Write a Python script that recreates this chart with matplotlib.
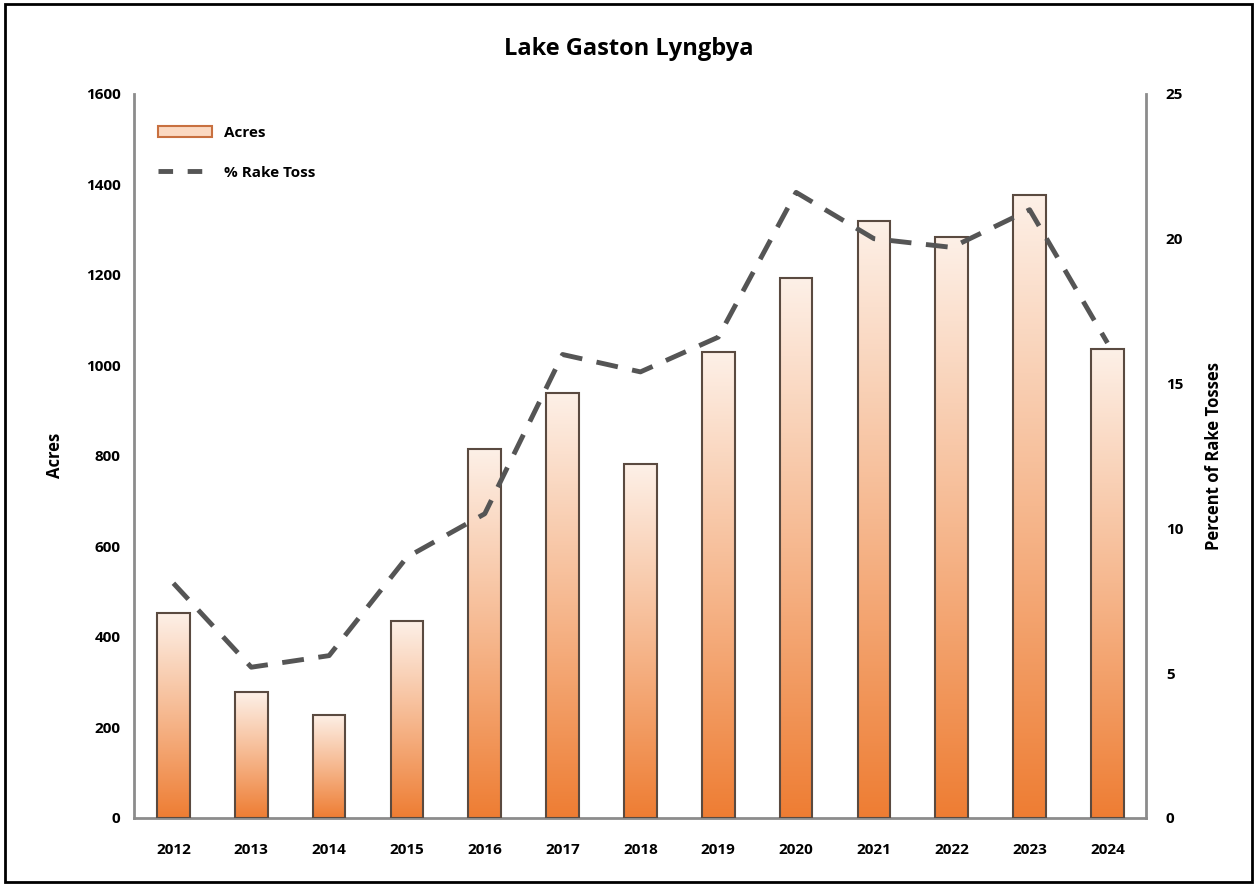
import numpy as np
import matplotlib
matplotlib.use("Agg")
import matplotlib.pyplot as plt
from matplotlib.colors import LinearSegmentedColormap
from matplotlib.patches import Patch, Rectangle
from matplotlib.lines import Line2D

years = ['2012', '2013', '2014', '2015', '2016', '2017', '2018',
         '2019', '2020', '2021', '2022', '2023', '2024']
acres = [453, 278, 228, 435, 815, 939, 782, 1030, 1193, 1319, 1284, 1377, 1036]
rake_toss = [8.1, 5.2, 5.6, 9.0, 10.5, 16.0, 15.4, 16.6, 21.6, 20.0, 19.7, 21.0, 16.4]

plt.rcParams['font.family'] = ['Open Sans', 'DejaVu Sans']
plt.rcParams['font.weight'] = 'bold'

grad_cmap = LinearSegmentedColormap.from_list('bar_grad', ['#ee7d33', '#f6b88f', '#fdf0e7'])
grad = np.linspace(0, 1, 256).reshape(-1, 1)

fig = plt.figure(figsize=(12.57, 8.86), dpi=100)
fig.patches.append(Rectangle((0.004, 0.004), 0.992, 0.992, transform=fig.transFigure,
                             fill=False, edgecolor='black', linewidth=2))
ax = fig.add_axes([0.107, 0.077, 0.805, 0.817])

x = np.arange(len(years))
width = 0.42
for xi, val in zip(x, acres):
    ax.imshow(grad, extent=[xi - width / 2, xi + width / 2, 0, val], origin='lower',
              cmap=grad_cmap, aspect='auto', zorder=2)
    ax.add_patch(Rectangle((xi - width / 2, 0), width, val, fill=False,
                           edgecolor='#5a4a40', linewidth=1.5, zorder=3))

ax.set_xlim(-0.5, len(years) - 0.5)
ax.set_ylim(0, 1600)
ax.set_xticks(x)
ax.set_xticklabels(years, fontsize=11, fontweight='bold')
ax.set_yticks(range(0, 1601, 200))
ax.tick_params(axis='x', length=0, labelsize=11, pad=18)
ax.tick_params(axis='y', length=0, labelsize=11, pad=10)
for lbl in ax.get_yticklabels():
    lbl.set_fontweight('bold')
ax.set_ylabel('Acres', fontsize=12, fontweight='bold', labelpad=16)
for s in ['top', 'right']:
    ax.spines[s].set_visible(False)
for s in ['left', 'bottom']:
    ax.spines[s].set_color('#8c8c8c')
    ax.spines[s].set_linewidth(2)

ax2 = ax.twinx()
ax2.plot(x, rake_toss, color='#555555', linewidth=3.5, dashes=(4.5, 3), zorder=4)
ax2.set_ylim(0, 25)
ax2.set_yticks(range(0, 26, 5))
ax2.tick_params(axis='y', length=0, labelsize=11, pad=14)
for lbl in ax2.get_yticklabels():
    lbl.set_fontweight('bold')
ax2.set_ylabel('Percent of Rake Tosses', fontsize=12, fontweight='bold', labelpad=16)
for s in ['top', 'left', 'bottom']:
    ax2.spines[s].set_visible(False)
ax2.spines['right'].set_color('#8c8c8c')
ax2.spines['right'].set_linewidth(2)

handles = [Patch(facecolor='#fbd9c2', edgecolor='#c87040', linewidth=1.5, label='Acres'),
           Line2D([0], [0], color='#555555', linewidth=3.5, dashes=(3, 3), label='% Rake Toss')]
ax2.legend(handles=handles, loc='upper left', bbox_to_anchor=(0.01, 0.975), frameon=False,
           prop={'size': 11, 'weight': 'bold'}, handlelength=3.5, labelspacing=1.7)

fig.text(0.5, 0.945, 'Lake Gaston Lyngbya', ha='center', va='center', fontsize=17, fontweight='bold')

fig.savefig('out.png', dpi=100)
